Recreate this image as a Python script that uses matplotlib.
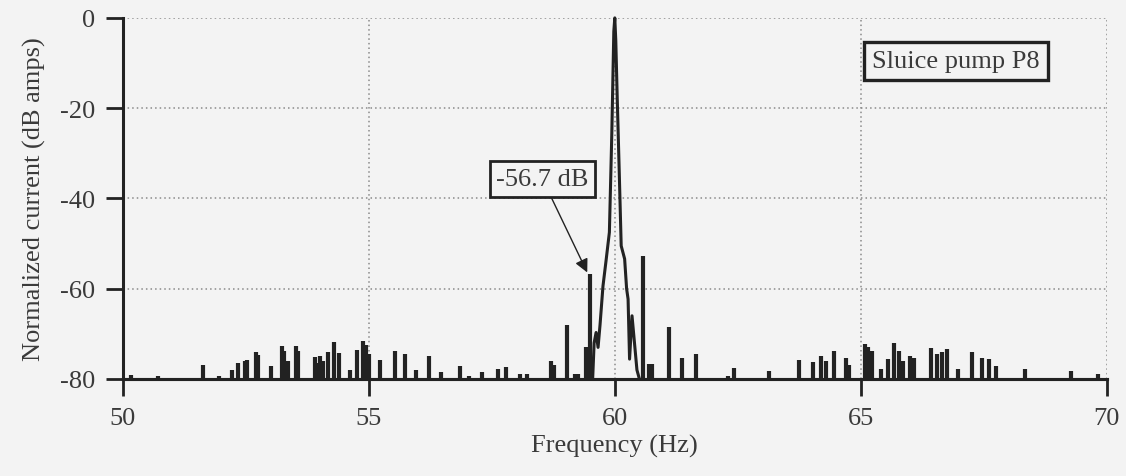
import numpy as np
import matplotlib
matplotlib.use("Agg")
import matplotlib.pyplot as plt

# ---- data ----
# narrow spectral lines sitting on the -80 dB floor: (frequency Hz, level dB)
spike_hz = [50.16, 50.72, 51.64, 51.95, 52.23, 52.34, 52.48, 52.53, 52.70, 52.74,
            53.01, 53.23, 53.27, 53.36, 53.52, 53.56, 53.90, 53.95, 54.00, 54.07,
            54.17, 54.30, 54.39, 54.61, 54.77, 54.88, 54.94, 55.00, 55.23, 55.54,
            55.73, 55.97, 56.22, 56.47, 56.85, 57.04, 57.30, 57.62, 57.78, 58.07,
            58.21, 58.70, 58.77, 59.02, 59.20, 59.26, 59.41, 59.49,
            60.57, 60.70, 60.75, 61.10, 61.37, 61.66, 62.30, 62.43, 63.14, 63.75,
            64.02, 64.19, 64.29, 64.45, 64.70, 64.76, 65.09, 65.15, 65.23, 65.42,
            65.56, 65.68, 65.78, 65.85, 65.99, 66.09, 66.43, 66.55, 66.65, 66.75,
            66.98, 67.25, 67.47, 67.60, 67.74, 68.33, 69.28, 69.83]
spike_db = [-79.2, -79.3, -77.0, -79.3, -78.0, -76.4, -76.0, -75.8, -74.0, -74.6,
            -77.2, -72.8, -73.8, -76.0, -72.8, -73.8, -75.2, -76.5, -75.0, -76.0,
            -74.0, -71.8, -74.3, -78.0, -73.5, -71.5, -72.4, -74.5, -75.8, -73.8,
            -74.5, -78.0, -74.8, -78.5, -77.2, -79.4, -78.4, -77.8, -77.3, -79.0,
            -79.0, -76.0, -77.0, -68.0, -79.0, -79.0, -73.0, -56.7,
            -52.8, -76.7, -76.7, -68.4, -75.4, -74.5, -79.4, -77.6, -78.3, -75.8,
            -76.3, -75.0, -76.0, -73.9, -75.4, -77.0, -72.2, -73.0, -73.7, -77.7,
            -75.5, -72.0, -73.8, -76.0, -75.0, -75.4, -73.2, -74.5, -74.0, -73.4,
            -77.7, -74.0, -75.3, -75.6, -77.2, -77.7, -78.2, -78.8]

# supply-frequency peak (60 Hz) profile
peak_hz = [59.55, 59.58, 59.62, 59.66, 59.70, 59.76, 59.82, 59.89, 59.94, 59.98,
           60.00, 60.02, 60.05, 60.09, 60.13, 60.20, 60.24, 60.27, 60.30, 60.35,
           60.40, 60.45, 60.50]
peak_db = [-80.0, -72.0, -69.7, -73.0, -68.0, -59.4, -54.0, -47.5, -25.3, -3.0,
           0.0, -5.0, -18.0, -34.0, -50.5, -53.4, -60.0, -62.3, -75.6, -66.0,
           -72.0, -78.0, -80.0]

floor_db = -80.0
sideband_hz, sideband_db = 59.49, -56.7

x_ticks = [50, 55, 60, 65, 70]
y_ticks = [0, -20, -40, -60, -80]

# ---- style ----
plt.rcParams["font.family"] = ["Liberation Serif", "DejaVu Serif"]
plt.rcParams["axes.unicode_minus"] = False
INK = "#222222"
TXT = "#3a3a3a"
BG = "#f3f3f3"
FS = 19

fig = plt.figure(figsize=(11.26, 4.77), dpi=100, facecolor=BG)
ax = fig.add_axes([0.109, 0.2034, 0.874, 0.757], facecolor=BG)

# baseline + lines
ax.plot([x_ticks[0], x_ticks[-1]], [floor_db, floor_db], color=INK, lw=2.2,
        clip_on=False, zorder=3)
ax.vlines(spike_hz, floor_db, spike_db, color=INK, lw=3.0, zorder=3)
ax.plot(peak_hz, peak_db, color=INK, lw=2.2, clip_on=False, zorder=3)

ax.set_xlim(x_ticks[0], x_ticks[-1])
ax.set_ylim(floor_db, 0)
ax.set_xticks(x_ticks)
ax.set_yticks(y_ticks)
ax.tick_params(axis="both", labelsize=FS, colors=INK, labelcolor=TXT,
               length=12, width=2, direction="out", pad=8)

for s in ("top", "right"):
    ax.spines[s].set_visible(False)
for s in ("left", "bottom"):
    ax.spines[s].set_linewidth(2.2)
    ax.spines[s].set_color(INK)

ax.grid(True, ls=(0, (1, 2)), color="#8a8a8a", lw=1.1)
ax.set_axisbelow(True)

ax.set_xlabel("Frequency (Hz)", fontsize=FS, color=TXT, labelpad=4)
ax.set_ylabel("Normalized current (dB amps)", fontsize=FS, color=TXT, labelpad=10)

# ---- annotations ----
ax.annotate("-56.7 dB", xy=(sideband_hz - 0.05, sideband_db + 0.3),
            xytext=(58.53, -35.7), ha="center", va="center",
            fontsize=FS, color=TXT,
            bbox=dict(boxstyle="square,pad=0.25", fc=BG, ec=INK, lw=2.0),
            arrowprops=dict(arrowstyle="-|>", color=INK, lw=1.0,
                            mutation_scale=20, shrinkA=0, shrinkB=0),
            zorder=5)

ax.text(66.93, -9.5, "Sluice pump P8", ha="center", va="center",
        fontsize=FS, color=TXT,
        bbox=dict(boxstyle="square,pad=0.3", fc=BG, ec=INK, lw=2.4), zorder=5)

fig.savefig("out.png", dpi=100, facecolor=BG)
